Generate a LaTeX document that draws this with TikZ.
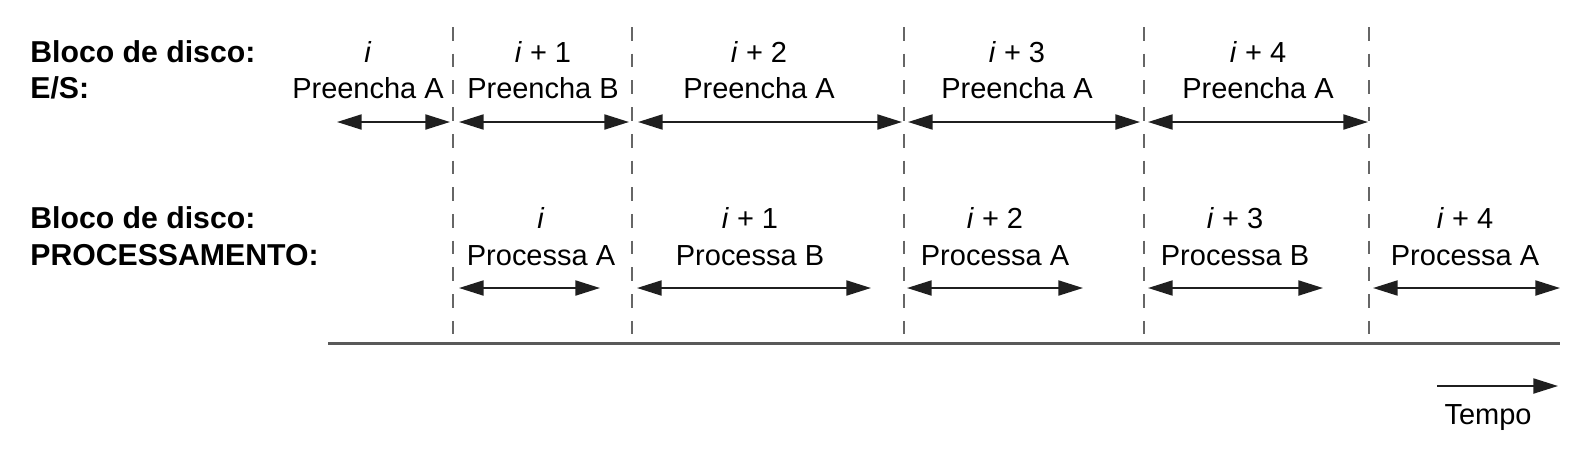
\documentclass[tikz,border=0pt]{standalone}
\usepackage{fontspec}
\setmainfont{Liberation Sans}
\usetikzlibrary{arrows.meta}

\begin{document}
\begin{tikzpicture}[x=0.02cm,y=-0.02cm]
\tikzset{every node/.style={inner sep=0pt,font=\fontsize{16.5}{20}\selectfont},
lbl/.style={anchor=base west,font=\fontsize{17.2}{20}\selectfont\bfseries},
txt/.style={anchor=base},
span/.style={{Triangle[length=14pt,width=8.5pt]}-{Triangle[length=14pt,width=8.5pt]},line width=1.2pt,black!88},
sep/.style={dash pattern=on 7.8pt off 7.4pt,line width=1.1pt,black!60},
axis/.style={line width=1.7pt,black!65}}
\useasboundingbox (0,0) rectangle (1594,457);
\node[lbl] (es1) at (30,62) {Bloco de disco:};
\node[lbl] (es2) at (30,98) {E/S:};
\node[lbl] (pr1) at (30,228) {Bloco de disco:};
\node[lbl] (pr2) at (30,265) {PROCESSAMENTO:};
\foreach \k/\x in {1/453,2/632,3/904,4/1144,5/1369} {
\coordinate (top\k) at (\x,27);
\coordinate (bot\k) at (\x,337);
\draw[sep] (top\k) -- (bot\k);
}
\node[txt] (esn1) at (368,62) {\textit{i}};
\node[txt] (esf1) at (368,98) {Preencha A};
\node[txt] (esn2) at (543,62) {\textit{i} + 1};
\node[txt] (esf2) at (543,98) {Preencha B};
\node[txt] (esn3) at (759,62) {\textit{i} + 2};
\node[txt] (esf3) at (759,98) {Preencha A};
\node[txt] (esn4) at (1017,62) {\textit{i} + 3};
\node[txt] (esf4) at (1017,98) {Preencha A};
\node[txt] (esn5) at (1258,62) {\textit{i} + 4};
\node[txt] (esf5) at (1258,98) {Preencha A};
\node[txt] (prn1) at (541,228) {\textit{i}};
\node[txt] (prf1) at (541,265) {Processa A};
\node[txt] (prn2) at (750,228) {\textit{i} + 1};
\node[txt] (prf2) at (750,265) {Processa B};
\node[txt] (prn3) at (995,228) {\textit{i} + 2};
\node[txt] (prf3) at (995,265) {Processa A};
\node[txt] (prn4) at (1235,228) {\textit{i} + 3};
\node[txt] (prf4) at (1235,265) {Processa B};
\node[txt] (prn5) at (1465,228) {\textit{i} + 4};
\node[txt] (prf5) at (1465,265) {Processa A};
\foreach \k/\a/\b in {1/337/450,2/459/629,3/638/902,4/908/1140,5/1148/1368} {
\coordinate (esa\k) at (\a,122);
\coordinate (esb\k) at (\b,122);
\draw[span] (esa\k) -- (esb\k);
}
\foreach \k/\a/\b in {1/459/600,2/637/871,3/907/1083,4/1148/1323,5/1373/1560} {
\coordinate (pra\k) at (\a,288);
\coordinate (prb\k) at (\b,288);
\draw[span] (pra\k) -- (prb\k);
}
\coordinate (ax0) at (328,343);
\coordinate (ax1) at (1560,343);
\draw[axis] (ax0) -- (ax1);
\coordinate (tp0) at (1437,386);
\coordinate (tp1) at (1558,386);
\draw[line width=1.2pt,black!88,-{Triangle[length=14pt,width=8.5pt]}] (tp0) -- (tp1);
\node[txt] (tempo) at (1488,424) {Tempo};
\end{tikzpicture}
\end{document}
